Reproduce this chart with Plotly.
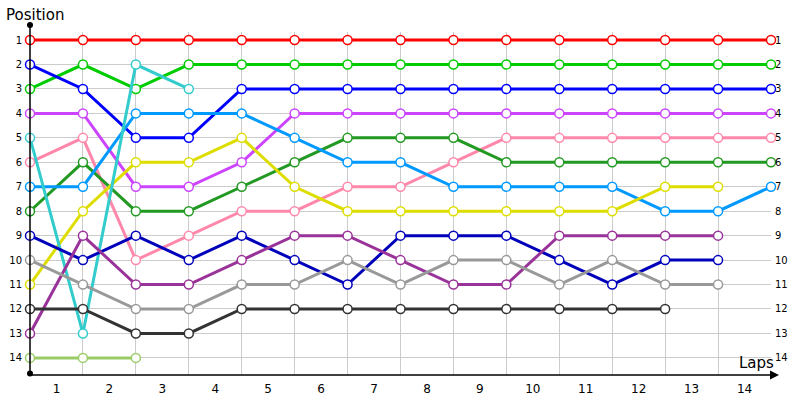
import plotly.graph_objects as go

# ---------------- data ----------------
lap_labels = ["1", "2", "3", "4", "5", "6", "7", "8", "9", "10", "11", "12", "13", "14"]
position_labels = ["1", "2", "3", "4", "5", "6", "7", "8", "9", "10", "11", "12", "13", "14"]

red        = [1, 1, 1, 1, 1, 1, 1, 1, 1, 1, 1, 1, 1, 1, 1]
green      = [3, 2, 3, 2, 2, 2, 2, 2, 2, 2, 2, 2, 2, 2, 2]
blue       = [2, 3, 5, 5, 3, 3, 3, 3, 3, 3, 3, 3, 3, 3, 3]
violet     = [4, 4, 7, 7, 6, 4, 4, 4, 4, 4, 4, 4, 4, 4, 4]
pink       = [6, 5, 10, 9, 8, 8, 7, 7, 6, 5, 5, 5, 5, 5, 5]
dark_green = [8, 6, 8, 8, 7, 6, 5, 5, 5, 6, 6, 6, 6, 6, 6]
sky_blue   = [7, 7, 4, 4, 4, 5, 6, 6, 7, 7, 7, 7, 8, 8, 7]
yellow     = [11, 8, 6, 6, 5, 7, 8, 8, 8, 8, 8, 8, 7, 7]
cyan       = [5, 13, 2, 3]
navy       = [9, 10, 9, 10, 9, 10, 11, 9, 9, 9, 10, 11, 10, 10]
plum       = [13, 9, 11, 11, 10, 9, 9, 10, 11, 11, 9, 9, 9, 9]
grey       = [10, 11, 12, 12, 11, 11, 10, 11, 10, 10, 11, 10, 11, 11]
charcoal   = [12, 12, 13, 13, 12, 12, 12, 12, 12, 12, 12, 12, 12]
olive      = [14, 14, 14]

series = [
    ("red", red, "#ff0000"),
    ("green", green, "#00cc00"),
    ("blue", blue, "#0000ff"),
    ("violet", violet, "#cc44ff"),
    ("pink", pink, "#ff88aa"),
    ("dark green", dark_green, "#229922"),
    ("sky blue", sky_blue, "#0099ff"),
    ("yellow", yellow, "#dddd00"),
    ("cyan", cyan, "#33cccc"),
    ("navy", navy, "#0000bb"),
    ("plum", plum, "#993399"),
    ("grey", grey, "#999999"),
    ("charcoal", charcoal, "#333333"),
    ("olive", olive, "#99cc66"),
]

n_laps = len(lap_labels)

fig = go.Figure()
for i, (name, vals, col) in enumerate(series):
    fig.add_trace(go.Scatter(
        x=list(range(len(vals))), y=vals, name=name, mode="lines+markers",
        yaxis="y2" if i == 0 else "y",
        line=dict(color=col, width=3),
        marker=dict(size=9, color="white", line=dict(color=col, width=1.5)),
        cliponaxis=False, showlegend=False, hoverinfo="skip",
    ))

FONT = "DejaVu Sans"
y_range = [14.7, 0.67]

fig.update_layout(
    width=800, height=400,
    margin=dict(l=30, r=29, t=32, b=25),
    paper_bgcolor="white", plot_bgcolor="white",
    font=dict(family=FONT, color="#000000"),
    xaxis=dict(
        range=[0, n_laps], showgrid=False, zeroline=False, showline=False,
        automargin=False,
        tickvals=[i + 0.5 for i in range(n_laps)], ticktext=lap_labels,
        ticks="", tickfont=dict(size=12, family=FONT), ticklabelstandoff=5,
        minor=dict(tickvals=list(range(n_laps + 1)), showgrid=True,
                   gridcolor="#cccccc", gridwidth=1, ticks=""),
    ),
    yaxis=dict(
        range=y_range, showgrid=True, gridcolor="#cccccc", gridwidth=1,
        zeroline=False, showline=False, automargin=False,
        tickvals=list(range(1, 15)), ticktext=position_labels,
        ticks="", tickfont=dict(size=10, family=FONT), ticklabelstandoff=7,
    ),
    yaxis2=dict(
        range=y_range, overlaying="y", side="right", anchor="x",
        showgrid=False, zeroline=False, showline=False, automargin=False,
        tickvals=list(range(1, 15)), ticktext=position_labels,
        ticks="", tickfont=dict(size=10, family=FONT), ticklabelstandoff=3,
    ),
)

# axis lines with arrow / dots
fig.add_annotation(xref="paper", yref="paper", x=(779 - 30) / 741, y=0,
                   ax=-749, ay=0, text="", showarrow=True,
                   arrowhead=2, arrowsize=1.2, arrowwidth=1.5, arrowcolor="#000000")
fig.add_annotation(xref="paper", yref="paper", x=0, y=(375 - 25) / 343,
                   ax=0, ay=350, text="", showarrow=True, arrowside="end+start",
                   arrowhead=6, startarrowhead=6, arrowsize=1, arrowwidth=1.5,
                   arrowcolor="#000000")

fig.add_annotation(xref="paper", yref="paper", x=(4 - 30) / 741, y=(375 - 15) / 343,
                   text="Position", showarrow=False, xanchor="left", yanchor="middle",
                   font=dict(size=15, family=FONT, color="#000000"))
fig.add_annotation(xref="paper", yref="paper", x=(776 - 30) / 741, y=(375 - 363) / 343,
                   text="Laps", showarrow=False, xanchor="right", yanchor="middle",
                   font=dict(size=15, family=FONT, color="#000000"))

fig.write_html("out.html", config={"displayModeBar": False},
               post_script="document.body.style.margin='0';")
